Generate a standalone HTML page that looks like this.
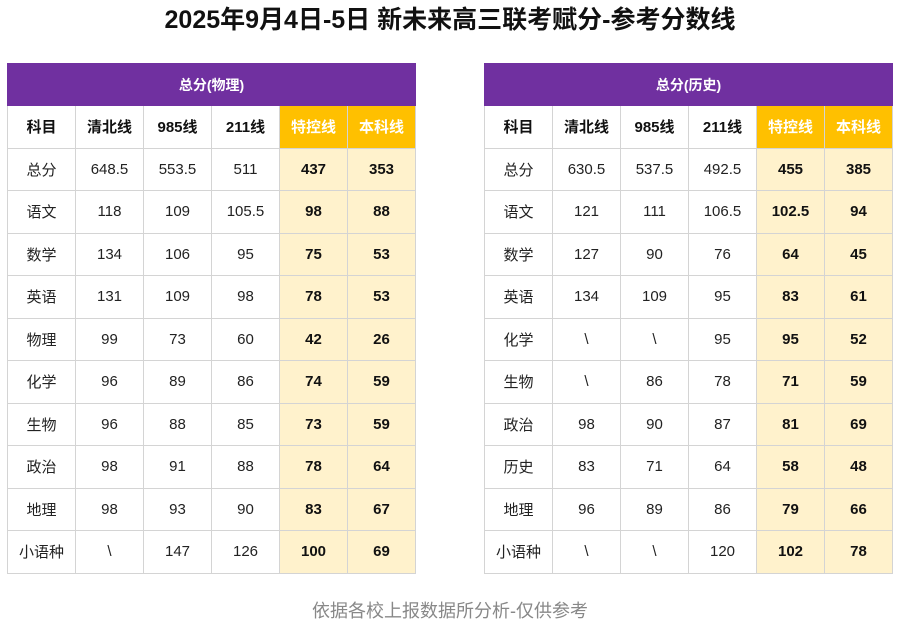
<!DOCTYPE html>
<html><head><meta charset="utf-8"><style>
body{margin:0;width:900px;height:628px;background:#fff;position:relative;font-family:"Liberation Sans","Noto Sans CJK SC",sans-serif;overflow:hidden}
.title{position:absolute;left:0;top:2px;width:900px;text-align:center;font-size:25px;font-weight:bold;color:#111;line-height:36px}
table{position:absolute;top:63px;border-collapse:collapse;table-layout:fixed;width:409px}
td{border:1px solid #d4d4d4;height:41.5px;padding:0;text-align:center;font-size:15px;color:#222}
tr.cap td{background:#7030a0;color:#fff;font-weight:bold;font-size:14px;height:41px;border-color:#7030a0}
tr.hd td{font-weight:bold;color:#111}
tr.hd td.y{background:#ffc000;color:#fff}
td.l{background:#fff2cc;font-weight:bold;color:#111}
.foot{position:absolute;left:0;top:597px;width:900px;text-align:center;font-size:18px;color:#888}
</style></head><body>
<div class="title">2025年9月4日-5日 新未来高三联考赋分-参考分数线</div>
<table id="t1" style="left:7px"></table>
<table id="t2" style="left:484px"></table>
<div class="foot">依据各校上报数据所分析-仅供参考</div>
<script>
const headers=["科目","清北线","985线","211线","特控线","本科线"];
const physRows=[["总分","648.5","553.5","511","437","353"],["语文","118","109","105.5","98","88"],["数学","134","106","95","75","53"],["英语","131","109","98","78","53"],["物理","99","73","60","42","26"],["化学","96","89","86","74","59"],["生物","96","88","85","73","59"],["政治","98","91","88","78","64"],["地理","98","93","90","83","67"],["小语种","\\","147","126","100","69"]];
const histRows=[["总分","630.5","537.5","492.5","455","385"],["语文","121","111","106.5","102.5","94"],["数学","127","90","76","64","45"],["英语","134","109","95","83","61"],["化学","\\","\\","95","95","52"],["生物","\\","86","78","71","59"],["政治","98","90","87","81","69"],["历史","83","71","64","58","48"],["地理","96","89","86","79","66"],["小语种","\\","\\","120","102","78"]];
function build(id,cap,rows){
 const t=document.getElementById(id);
 let h='<tr class="cap"><td colspan="6">'+cap+'</td></tr><tr class="hd">';
 headers.forEach((x,i)=>{h+='<td'+(i>=4?' class="y"':'')+'>'+x+'</td>';});
 h+='</tr>';
 rows.forEach(r=>{h+='<tr>';r.forEach((x,i)=>{h+='<td'+(i>=4?' class="l"':'')+'>'+x+'</td>';});h+='</tr>';});
 t.innerHTML=h;
}
build('t1','总分(物理)',physRows);
build('t2','总分(历史)',histRows);
</script>
</body></html>
